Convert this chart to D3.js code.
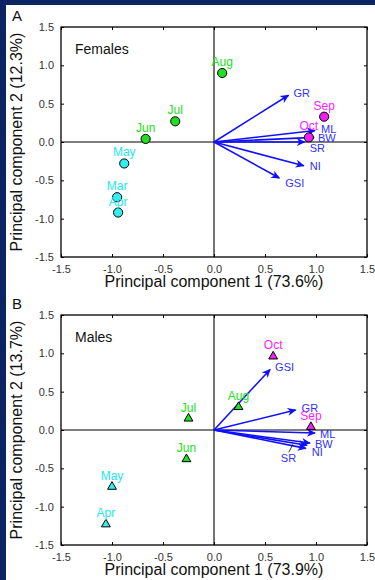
<!DOCTYPE html>
<html>
<head>
<meta charset="utf-8">
<script src="https://cdn.jsdelivr.net/npm/d3@7"></script>
<style>
  body { margin: 0; background: #0b2463; }
  svg { display: block; font-family: "Liberation Sans", Arial, sans-serif; }
</style>
</head>
<body>
<div id="chart"></div>
<script>
// data
var tickValues = [-1.5, -1.0, -0.5, 0.0, 0.5, 1.0, 1.5]

var femaleMonths = ["Mar", "Apr", "May", "Jun", "Jul", "Aug", "Sep", "Oct"]
var femalePC1 = [-0.95, -0.94, -0.88, -0.67, -0.38, 0.08, 1.08, 0.93]
var femalePC2 = [-0.72, -0.92, -0.28, 0.04, 0.27, 0.90, 0.33, 0.06]
var femaleVars = ["GR", "ML", "BW", "SR", "NI", "GSI"]
var femaleLoad1 = [0.73, 0.99, 0.98, 0.89, 0.88, 0.64]
var femaleLoad2 = [0.61, 0.15, 0.06, 0.00, -0.31, -0.47]

var maleMonths = ["Apr", "May", "Jun", "Jul", "Aug", "Sep", "Oct"]
var malePC1 = [-1.06, -1.00, -0.27, -0.25, 0.24, 0.95, 0.58]
var malePC2 = [-1.23, -0.74, -0.38, 0.15, 0.30, 0.04, 0.96]
var maleVars = ["GSI", "GR", "ML", "BW", "SR", "NI"]
var maleLoad1 = [0.55, 0.80, 0.99, 0.94, 0.91, 0.90]
var maleLoad2 = [0.79, 0.26, -0.04, -0.17, -0.20, -0.24]

// styling
var monthColor = {
  Mar: "#22e6f0", Apr: "#22e6f0", May: "#22e6f0",
  Jun: "#22dd22", Jul: "#22dd22", Aug: "#22dd22",
  Sep: "#ff22ff", Oct: "#ff22ff"
}
var monthFill = {
  Mar: "#33eef0", Apr: "#33eef0", May: "#33eef0",
  Jun: "#22dd22", Jul: "#22dd22", Aug: "#22dd22",
  Sep: "#ee22ee", Oct: "#ee22ee"
}
var arrowBlue = "#1010ff"
var labelBlue = "#3030ff"

// label nudges (pixels) for loading labels
var femaleLabelNudge = {
  GR: [5, 2], ML: [6, 2], BW: [4, 5], SR: [5, 10], NI: [6, 4], GSI: [6, 9]
}
var maleLabelNudge = {
  GSI: [5, 2], GR: [6, 2], ML: [5, 5], BW: [5, 5], SR: [-26, 17], NI: [6, 8]
}

var W = 375, H = 580

var svg = d3.select("#chart").append("svg").attr("width", W).attr("height", H)
svg.append("rect").attr("width", W).attr("height", H).attr("fill", "#0b2463")
svg.append("rect").attr("x", 6).attr("y", 5).attr("width", W - 6).attr("height", H - 5).attr("fill", "#fff")

var defs = svg.append("defs")
defs.append("marker")
  .attr("id", "head")
  .attr("markerUnits", "userSpaceOnUse")
  .attr("viewBox", "-10 -5 12 10")
  .attr("refX", 0).attr("refY", 0)
  .attr("markerWidth", 12).attr("markerHeight", 10)
  .attr("orient", "auto")
  .append("path")
  .attr("d", "M1,0 L-8,-4 L-5.5,0 L-8,4 Z")
  .attr("fill", arrowBlue)

drawPanel({
  top: 27, letter: "A", title: "Females", marker: "circle",
  months: femaleMonths, pc1: femalePC1, pc2: femalePC2,
  vars: femaleVars, l1: femaleLoad1, l2: femaleLoad2, nudge: femaleLabelNudge,
  xTitle: "Principal component 1 (73.6%)", yTitle: "Principal component 2 (12.3%)"
})
drawPanel({
  top: 315, letter: "B", title: "Males", marker: "triangle",
  months: maleMonths, pc1: malePC1, pc2: malePC2,
  vars: maleVars, l1: maleLoad1, l2: maleLoad2, nudge: maleLabelNudge,
  xTitle: "Principal component 1 (73.9%)", yTitle: "Principal component 2 (13.7%)"
})

function drawPanel(cfg) {
  var left = 61, right = 367, top = cfg.top, bottom = cfg.top + 230
  var x = d3.scaleLinear().domain([-1.5, 1.5]).range([left, right])
  var y = d3.scaleLinear().domain([-1.5, 1.5]).range([bottom, top])
  var fmt = function(d) { return d.toFixed(1) }

  var g = svg.append("g")

  // ticks, pointing inwards
  var xb = g.append("g").attr("transform", "translate(0," + bottom + ")")
    .call(d3.axisBottom(x).tickValues(tickValues).tickSize(-3).tickPadding(8).tickFormat(fmt))
  var xt = g.append("g").attr("transform", "translate(0," + top + ")")
    .call(d3.axisTop(x).tickValues(tickValues).tickSize(-3).tickFormat(""))
  var yl = g.append("g").attr("transform", "translate(" + left + ",0)")
    .call(d3.axisLeft(y).tickValues(tickValues).tickSize(-3).tickPadding(7).tickFormat(fmt))
  var yr = g.append("g").attr("transform", "translate(" + right + ",0)")
    .call(d3.axisRight(y).tickValues(tickValues).tickSize(-3).tickFormat(""))
  ;[xb, xt, yl, yr].forEach(function(a) {
    a.select(".domain").remove()
    a.selectAll("line").attr("stroke", "#000")
    a.selectAll("text").attr("fill", "#333").style("font-size", "11px")
      .style("font-family", '"Liberation Sans", Arial, sans-serif')
  })

  // frame + zero lines
  g.append("rect").attr("x", left).attr("y", top)
    .attr("width", right - left).attr("height", bottom - top)
    .attr("fill", "none").attr("stroke", "#000").attr("stroke-width", 1.3)
  g.append("line").attr("x1", left).attr("x2", right)
    .attr("y1", y(0)).attr("y2", y(0)).attr("stroke", "#000").attr("stroke-width", 1.1)
  g.append("line").attr("x1", x(0)).attr("x2", x(0))
    .attr("y1", top).attr("y2", bottom).attr("stroke", "#000").attr("stroke-width", 1.1)

  // loading arrows
  var loads = cfg.vars.map(function(v, i) { return {name: v, a: cfg.l1[i], b: cfg.l2[i]} })
  g.append("g").selectAll("line").data(loads).enter().append("line")
    .attr("x1", x(0)).attr("y1", y(0))
    .attr("x2", function(d) { return x(d.a) })
    .attr("y2", function(d) { return y(d.b) })
    .attr("stroke", arrowBlue).attr("stroke-width", 1.6)
    .attr("marker-end", "url(#head)")

  g.append("g").selectAll("text").data(loads).enter().append("text")
    .attr("x", function(d) { return x(d.a) + cfg.nudge[d.name][0] })
    .attr("y", function(d) { return y(d.b) + cfg.nudge[d.name][1] })
    .text(function(d) { return d.name })
    .attr("fill", labelBlue).style("font-size", "11px")

  if (cfg.nudge.SR[0] < 0) {
    // little leader for SR
    var sr = loads.filter(function(d) { return d.name == "SR" })[0]
    g.append("line")
      .attr("x1", x(sr.a) + cfg.nudge.SR[0] + 8).attr("y1", y(sr.b) + cfg.nudge.SR[1] - 10)
      .attr("x2", x(sr.a) + cfg.nudge.SR[0] + 12).attr("y2", y(sr.b) + cfg.nudge.SR[1] - 18)
      .attr("stroke", "#000").attr("stroke-width", 0.8)
  }

  // month scores
  var pts = cfg.months.map(function(m, i) { return {name: m, a: cfg.pc1[i], b: cfg.pc2[i]} })
  var sym = cfg.marker == "circle" ? d3.symbolCircle : d3.symbolTriangle
  var size = cfg.marker == "circle" ? 66 : 34
  g.append("g").selectAll("path").data(pts).enter().append("path")
    .attr("d", d3.symbol().type(sym).size(size))
    .attr("transform", function(d) { return "translate(" + x(d.a) + "," + y(d.b) + ")" })
    .attr("fill", function(d) { return monthFill[d.name] })
    .attr("stroke", "#000").attr("stroke-width", 1)

  g.append("g").selectAll("text").data(pts).enter().append("text")
    .attr("x", function(d) { return x(d.a) })
    .attr("y", function(d) { return y(d.b) - 7 })
    .attr("text-anchor", "middle")
    .text(function(d) { return d.name })
    .attr("fill", function(d) { return monthColor[d.name] })
    .style("font-size", "12px")

  // titles
  g.append("text").attr("x", 75).attr("y", top + 27).text(cfg.title)
    .attr("fill", "#111").style("font-size", "14px")
  g.append("text").attr("x", 12).attr("y", top - 6).text(cfg.letter)
    .attr("fill", "#111").style("font-size", "15px")
  g.append("text").attr("x", (left + right) / 2).attr("y", bottom + 30)
    .attr("text-anchor", "middle").text(cfg.xTitle)
    .attr("fill", "#111").style("font-size", "16px")
  g.append("text")
    .attr("transform", "translate(22," + (top + bottom) / 2 + ") rotate(-90)")
    .attr("text-anchor", "middle").text(cfg.yTitle)
    .attr("fill", "#111").style("font-size", "16px")
}
</script>
</body>
</html>
